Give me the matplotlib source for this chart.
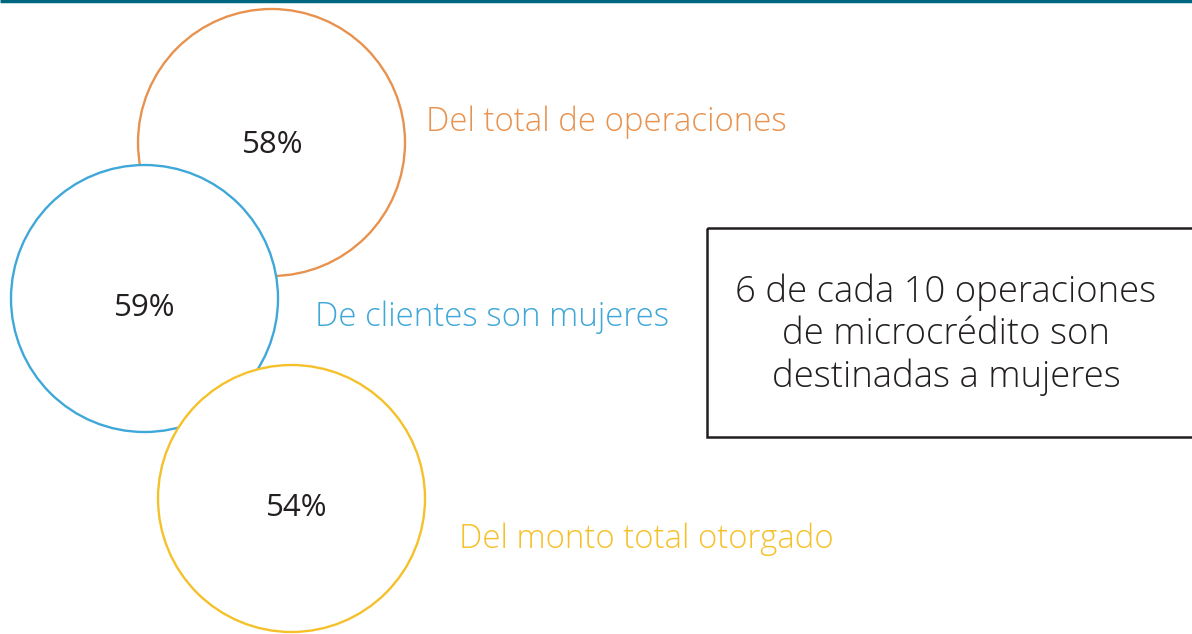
import matplotlib.pyplot as plt
from matplotlib.patches import Circle, Rectangle

# chart data
shares = [58, 59, 54]
share_labels = ['Del total de operaciones', 'De clientes son mujeres',
                'Del monto total otorgado']
share_colors = ['#E8924F', '#3FA8D8', '#F5C12B']
callout = '6 de cada 10 operaciones\nde microcrédito son\ndestinadas a mujeres'

# layout in pixel units (x right, y down)
centers = [(271.5, 142.5), (144.5, 298.5), (291.5, 498.5)]
radius = 133.5
pct_pos = [(272.5, 153), (145, 316), (297, 516)]
label_pos = [(426, 131), (315, 326), (459, 548)]

fig = plt.figure(figsize=(11.92, 6.34), dpi=100)
ax = fig.add_axes([0, 0, 1, 1])
ax.set_xlim(0, 1192)
ax.set_ylim(634, 0)
ax.axis('off')

# thin band at the top
ax.plot([0, 1192], [1, 1], color='#006680', lw=2.5, solid_capstyle='butt')

for i, (val, lab, col) in enumerate(zip(shares, share_labels, share_colors)):
    ax.add_patch(Circle(centers[i], radius, facecolor='white', edgecolor=col,
                        lw=1.7, zorder=2 + i))
    px, py = pct_pos[i]
    ax.text(px, py, f'{val}%', ha='center', va='baseline',
            fontsize=22.5, color='#231F20', family='Open Sans', zorder=10)
    lx, ly = label_pos[i]
    ax.text(lx, ly, lab, ha='left', va='baseline', fontsize=23.8,
            color=col, family='Open Sans', weight='light', zorder=10)

ax.add_patch(Rectangle((707, 228), 520, 209, facecolor='none',
                       edgecolor='#231F20', lw=1.8, zorder=5))
ax.text(946, 335, callout, ha='center', va='center', fontsize=26.3,
        color='#231F20', family='Open Sans', weight='light',
        linespacing=1.18, zorder=10)

fig.savefig('out.png', dpi=100)
